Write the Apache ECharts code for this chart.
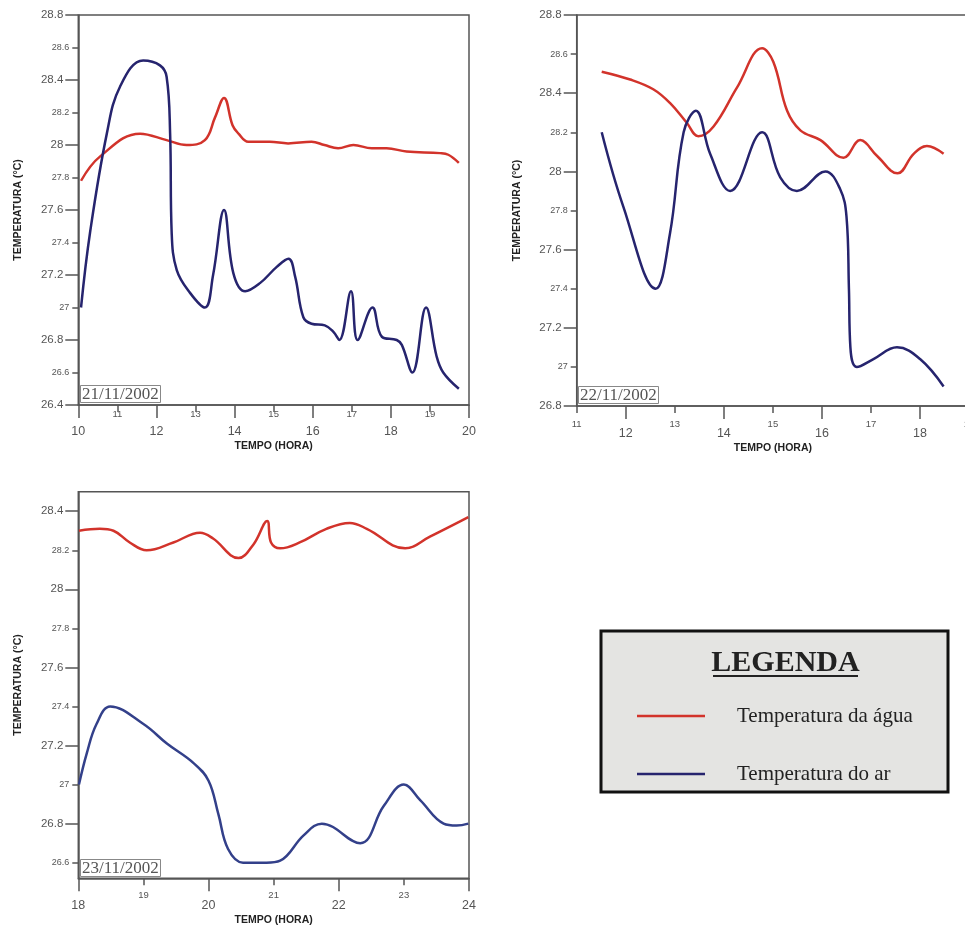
<!DOCTYPE html>
<html><head><meta charset="utf-8">
<script src="https://cdn.jsdelivr.net/npm/echarts@6/dist/echarts.min.js"></script>
<style>html,body{margin:0;padding:0;background:#fff}#c{width:965px;height:928px}</style>
</head><body><div id="c"></div><script>
// ---- names / labels ----
const seriesNames = ['Temperatura da água', 'Temperatura do ar'];
const dateLabels = ['21/11/2002', '22/11/2002', '23/11/2002'];
const xAxisName = 'TEMPO (HORA)';
const yAxisName = 'TEMPERATURA (°C)';
const legendTitle = 'LEGENDA';

// ---- tick values ----
const p1XTicks = [10, 11, 12, 13, 14, 15, 16, 17, 18, 19, 20];
const p1YTicks = [26.4, 26.6, 26.8, 27, 27.2, 27.4, 27.6, 27.8, 28, 28.2, 28.4, 28.6, 28.8];
const p2XTicks = [11, 12, 13, 14, 15, 16, 17, 18, 19];
const p2YTicks = [26.8, 27, 27.2, 27.4, 27.6, 27.8, 28, 28.2, 28.4, 28.6, 28.8];
const p3XTicks = [18, 19, 20, 21, 22, 23, 24];
const p3YTicks = [26.6, 26.8, 27, 27.2, 27.4, 27.6, 27.8, 28, 28.2, 28.4];

// ---- panel 1 : 21/11/2002 ----
const p1WaterHours = [10.07, 10.56, 11.58, 12.26, 12.77, 13.24, 13.5, 13.73, 13.95, 14.1, 14.35, 14.9, 15.37, 15.97, 16.3, 16.65, 17.04, 17.51, 17.89, 18.4, 19.26, 19.47, 19.74];
const p1WaterTemp  = [27.78, 27.93, 28.07, 28.03, 28.0, 28.03, 28.17, 28.29, 28.12, 28.07, 28.02, 28.02, 28.01, 28.02, 28.0, 27.98, 28.0, 27.98, 27.98, 27.96, 27.95, 27.94, 27.89];
const p1AirHours = [10.07, 10.3, 10.73, 11.07, 11.66, 12.09, 12.26, 12.35, 12.39, 12.52, 12.86, 13.24, 13.45, 13.73, 13.97, 14.27, 14.65, 15.08, 15.38, 15.55, 15.76, 15.97, 16.31, 16.53, 16.68, 16.98, 17.15, 17.53, 17.77, 18.15, 18.28, 18.55, 18.9, 19.17, 19.34, 19.74];
const p1AirTemp  = [27.0, 27.46, 28.07, 28.36, 28.52, 28.49, 28.42, 28.07, 27.46, 27.23, 27.09, 27.0, 27.2, 27.6, 27.21, 27.1, 27.15, 27.25, 27.3, 27.19, 26.94, 26.9, 26.89, 26.85, 26.8, 27.1, 26.8, 27.0, 26.82, 26.8, 26.77, 26.6, 27.0, 26.7, 26.6, 26.5];

// ---- panel 2 : 22/11/2002 ----
const p2WaterHours = [11.51, 12.09, 12.56, 12.9, 13.24, 13.48, 13.79, 14.27, 14.78, 15.01, 15.29, 15.56, 15.97, 16.44, 16.78, 17.12, 17.54, 17.87, 18.14, 18.48];
const p2WaterTemp  = [28.51, 28.47, 28.42, 28.35, 28.25, 28.18, 28.23, 28.43, 28.63, 28.56, 28.31, 28.21, 28.16, 28.07, 28.16, 28.08, 27.99, 28.09, 28.13, 28.09];
const p2AirHours = [11.51, 11.95, 12.61, 12.9, 13.18, 13.43, 13.72, 14.13, 14.78, 15.15, 15.49, 16.07, 16.37, 16.5, 16.55, 16.58, 16.71, 17.05, 17.53, 18.0, 18.48];
const p2AirTemp  = [28.2, 27.82, 27.4, 27.68, 28.2, 28.31, 28.09, 27.9, 28.2, 27.97, 27.9, 28.0, 27.91, 27.77, 27.4, 27.1, 27.0, 27.04, 27.1, 27.04, 26.9];

// ---- panel 3 : 23/11/2002 ----
const p3WaterHours = [18.01, 18.33, 18.54, 18.79, 19.05, 19.46, 19.87, 20.07, 20.46, 20.69, 20.9, 20.96, 21.1, 21.4, 21.81, 22.17, 22.43, 23.02, 23.4, 23.99];
const p3WaterTemp  = [28.3, 28.31, 28.3, 28.24, 28.2, 28.24, 28.29, 28.26, 28.16, 28.23, 28.35, 28.24, 28.21, 28.24, 28.31, 28.34, 28.31, 28.21, 28.27, 28.37];
const p3AirHours = [18.01, 18.13, 18.28, 18.49, 19.0, 19.36, 19.77, 20.0, 20.15, 20.3, 20.53, 20.89, 21.1, 21.46, 21.74, 22.33, 22.69, 23.0, 23.25, 23.61, 23.81, 23.99];
const p3AirTemp  = [27.0, 27.16, 27.31, 27.4, 27.31, 27.21, 27.11, 27.02, 26.85, 26.67, 26.6, 26.6, 26.61, 26.74, 26.8, 26.7, 26.89, 27.0, 26.92, 26.8, 26.79, 26.8];

// ---- styling ----
const AX = '#555';
const LC = '#555';
const FF = 'Liberation Sans, Arial, sans-serif';
const SERIF = 'Liberation Serif, Times New Roman, serif';
const RED = '#d2332b';
const NAVY = '#26246e';
const NAVY3 = '#33408a';

function zip(a, b) { return a.map((x, i) => [x, b[i]]); }
function isMajorY(v) { return Math.abs(Math.round(v / 0.4) * 0.4 - v) < 1e-6; }
function isMajorX(v) { return Math.round(v) % 2 === 0; }

const nameStyle = { fontFamily: FF, fontSize: 10.5, fontWeight: 'bold', color: '#222' };

function xAxes(gi, min, max, ticks, nameGap, margin, bigPad) {
  const major = ticks.filter(isMajorX), minor = ticks.filter(v => !isMajorX(v));
  return [{
    type: 'value', gridIndex: gi, min: min, max: max, position: 'bottom',
    name: xAxisName, nameLocation: 'middle', nameGap: nameGap, nameTextStyle: nameStyle,
    axisLine: { onZero: false, lineStyle: { color: AX, width: 1.5 } },
    axisTick: { show: true, length: 13, customValues: major, lineStyle: { color: AX, width: 1.5 } },
    axisLabel: {
      customValues: ticks, margin: margin,
      formatter: v => isMajorX(v) ? '{b|' + v + '}' : '{s|' + v + '}',
      rich: { b: { fontSize: 12.5, padding: [bigPad, 0, 0, 0], color: LC, fontFamily: FF },
              s: { fontSize: 9.5, color: LC, fontFamily: FF } }
    },
    splitLine: { show: false }
  }, {
    type: 'value', gridIndex: gi, min: min, max: max, position: 'bottom',
    axisLine: { show: false, onZero: false },
    axisTick: { show: true, length: 7, customValues: minor, lineStyle: { color: AX, width: 1.5 } },
    axisLabel: { show: false }, splitLine: { show: false }
  }];
}
function yAxes(gi, min, max, ticks, nameGap) {
  const major = ticks.filter(isMajorY), minor = ticks.filter(v => !isMajorY(v));
  return [{
    type: 'value', gridIndex: gi, min: min, max: max, position: 'left',
    name: yAxisName, nameLocation: 'middle', nameGap: nameGap, nameTextStyle: nameStyle,
    axisLine: { onZero: false, lineStyle: { color: AX, width: 1.5 } },
    axisTick: { show: true, length: 13, customValues: major, lineStyle: { color: AX, width: 1.5 } },
    axisLabel: {
      customValues: ticks, margin: 9,
      formatter: v => isMajorY(v) ? '{b|' + v + '}' : '{s|' + v + '}',
      rich: { b: { fontSize: 11.5, padding: [0, 6, 0, 0], color: LC, fontFamily: FF },
              s: { fontSize: 9, color: LC, fontFamily: FF } }
    },
    splitLine: { show: false }
  }, {
    type: 'value', gridIndex: gi, min: min, max: max, position: 'left',
    axisLine: { show: false, onZero: false },
    axisTick: { show: true, length: 6, customValues: minor, lineStyle: { color: AX, width: 1.5 } },
    axisLabel: { show: false }, splitLine: { show: false }
  }];
}
function line(name, gi, data, color) {
  return {
    type: 'line', name: name, xAxisIndex: 2 * gi, yAxisIndex: 2 * gi, data: data,
    smooth: 0.4, showSymbol: false, symbol: 'none', color: color,
    lineStyle: { color: color, width: 2.5 }, itemStyle: { color: color }, z: 3
  };
}
function dateTitle(text, left, top) {
  return {
    text: text, left: left, top: top, padding: [1, 2, 0, 2],
    borderColor: '#888', borderWidth: 1, backgroundColor: '#fff',
    textStyle: { fontFamily: SERIF, fontSize: 17, fontWeight: 'normal', color: '#555', lineHeight: 15 }
  };
}

const chart = echarts.init(document.getElementById('c'), null, { renderer: 'canvas' });
const gridStyle = { show: true, borderColor: AX, borderWidth: 1.5, backgroundColor: 'transparent', outerBoundsMode: 'none', containLabel: false };
chart.setOption({
  animation: false,
  backgroundColor: '#fff',
  title: [dateTitle(dateLabels[0], 80, 386), dateTitle(dateLabels[1], 578, 387), dateTitle(dateLabels[2], 80, 860)],
  grid: [
    Object.assign({ left: 78.3, top: 15, width: 390.7, height: 390 }, gridStyle),
    Object.assign({ left: 576.7, top: 15, width: 392.4, height: 391 }, gridStyle),
    Object.assign({ left: 78.3, top: 491.7, width: 390.7, height: 386.6 }, gridStyle)
  ],
  xAxis: [].concat(
    xAxes(0, 10, 20, p1XTicks, 36, 4, 16),
    xAxes(1, 11, 19, p2XTicks, 37, 13, 8),
    xAxes(2, 18, 24, p3XTicks, 36, 12, 9)),
  yAxis: [].concat(yAxes(0, 26.4, 28.8, p1YTicks, 55), yAxes(1, 26.8, 28.8, p2YTicks, 54.5), yAxes(2, 26.52, 28.5, p3YTicks, 55)),
  legend: {
    data: seriesNames, orient: 'vertical', left: 632, top: 700, z: 10,
    itemWidth: 68, itemHeight: 2.5, itemGap: 36, icon: 'rect', selectedMode: false,
    textStyle: { fontFamily: SERIF, fontSize: 21, color: '#222', lineHeight: 22, padding: [0, 0, 0, 27] }
  },
  graphic: [
    { type: 'rect', z: 1, shape: { x: 601, y: 631, width: 347, height: 161 },
      style: { fill: '#e4e4e2', stroke: '#111', lineWidth: 3 } },
    { type: 'text', z: 2, x: 785.5, y: 663,
      style: { text: legendTitle, fontFamily: SERIF, fontSize: 30, fontWeight: 'bold', fill: '#222', textAlign: 'center', textVerticalAlign: 'middle' } },
    { type: 'line', z: 2, shape: { x1: 713, y1: 676, x2: 858, y2: 676 }, style: { stroke: '#222', lineWidth: 2 } }
  ],
  series: [
    line(seriesNames[0], 0, zip(p1WaterHours, p1WaterTemp), RED),
    line(seriesNames[1], 0, zip(p1AirHours, p1AirTemp), NAVY),
    line(seriesNames[0], 1, zip(p2WaterHours, p2WaterTemp), RED),
    line(seriesNames[1], 1, zip(p2AirHours, p2AirTemp), NAVY),
    line(seriesNames[0], 2, zip(p3WaterHours, p3WaterTemp), RED),
    line(seriesNames[1], 2, zip(p3AirHours, p3AirTemp), NAVY3)
  ]
});
</script></body></html>
